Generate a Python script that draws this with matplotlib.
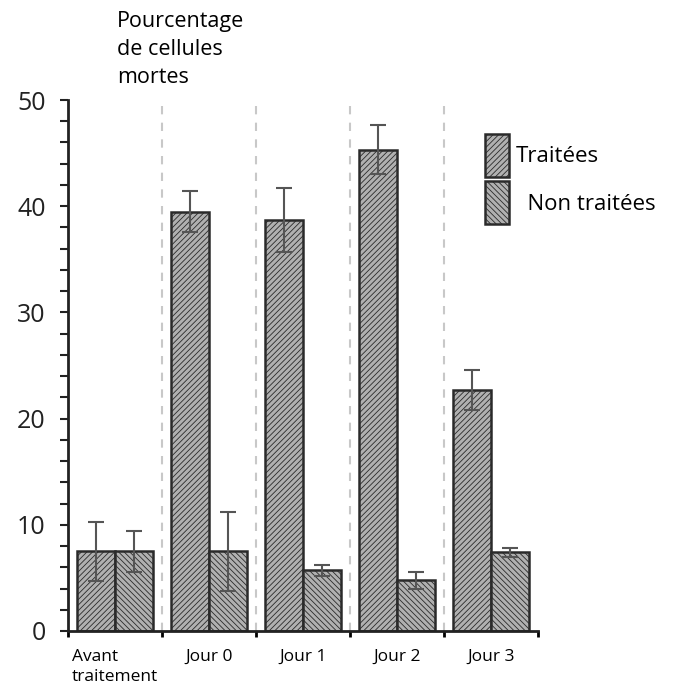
import numpy as np
import matplotlib
matplotlib.use("Agg")
import matplotlib.pyplot as plt
from matplotlib.patches import Patch

# data
groups = ["Avant\ntraitement", "Jour 0", "Jour 1", "Jour 2", "Jour 3"]
treated = [7.5, 39.5, 38.7, 45.3, 22.7]
treated_err = [2.8, 1.9, 3.0, 2.3, 1.9]
untreated = [7.5, 7.5, 5.7, 4.8, 7.4]
untreated_err = [1.9, 3.7, 0.5, 0.8, 0.4]
legend_labels = ["Traitées", "  Non traitées"]

plt.rcParams["font.family"] = ["Open Sans", "DejaVu Sans"]
plt.rcParams["hatch.linewidth"] = 0.6
plt.rcParams["hatch.color"] = "#444444"

fig = plt.figure(figsize=(6.73, 6.85), dpi=100)
ax = fig.add_axes([68 / 673, 1 - 631 / 685, 470 / 673, 531 / 685])

x = np.arange(len(groups)) + 0.5
w = 0.4
face = "#b0b0b0"
edge = "#2a2a2a"

ax.bar(x - w / 2, treated, w, color=face, edgecolor=edge, linewidth=1.8,
       hatch="//////", zorder=2)
ax.bar(x + w / 2, untreated, w, color=face, edgecolor=edge, linewidth=1.8,
       hatch="\\\\\\\\\\\\", zorder=2)
ax.errorbar(x - w / 2, treated, yerr=treated_err, fmt="none", ecolor="#555555",
            elinewidth=1.5, capsize=6, capthick=1.5, zorder=3)
ax.errorbar(x + w / 2, untreated, yerr=untreated_err, fmt="none", ecolor="#555555",
            elinewidth=1.5, capsize=6, capthick=1.5, zorder=3)

# dashed separators between days
for b in range(1, len(groups)):
    ax.plot([b, b], [0, 50], ls=(0, (4, 4)), color="#c8c8c8", lw=1.5, zorder=1)

ax.set_xlim(0, len(groups))
ax.set_ylim(0, 50)
ax.spines["top"].set_visible(False)
ax.spines["right"].set_visible(False)
for s in ("left", "bottom"):
    ax.spines[s].set_linewidth(2)
    ax.spines[s].set_color("#222222")

ax.set_yticks(np.arange(0, 51, 10))
ax.set_yticks(np.arange(0, 51, 2), minor=True)
ax.tick_params(axis="y", which="both", direction="out", length=6, width=1.5,
               labelsize=18, colors="#222222", pad=10)
ax.set_xticks(np.arange(0, len(groups) + 1))
ax.set_xticklabels([])
ax.set_xticks(x, minor=True)
ax.set_xticklabels(groups, minor=True, fontsize=12.5)
ax.tick_params(axis="x", which="minor", length=0, pad=13)
ax.tick_params(axis="x", which="major", direction="out", length=4, width=2)
first = ax.get_xticklabels(minor=True)[0]
first.set_multialignment("left")
first.set_linespacing(1.3)

fig.text(117 / 673, 1 - 11 / 685, "Pourcentage\nde cellules\nmortes",
         fontsize=15.5, va="top", ha="left", linespacing=1.45)

handles = [Patch(facecolor=face, edgecolor=edge, hatch="//////", linewidth=1.8),
           Patch(facecolor=face, edgecolor=edge, hatch="\\\\\\\\\\\\", linewidth=1.8)]
ax.legend(handles, legend_labels, loc="upper left", bbox_to_anchor=(0.887, 0.936),
          frameon=False, fontsize=16, handlelength=1.1, handleheight=2.6,
          labelspacing=0.2, handletextpad=0.3, borderaxespad=0, borderpad=0)

fig.savefig("out.png", dpi=100)
